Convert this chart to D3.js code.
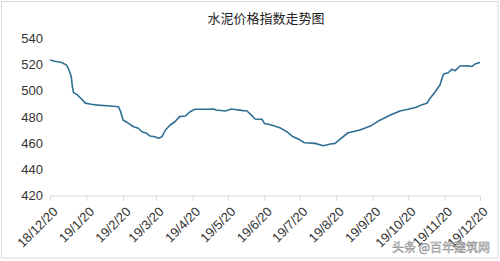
<!DOCTYPE html>
<html>
<head>
<meta charset="utf-8">
<script src="https://cdn.jsdelivr.net/npm/d3@7"></script>
<style>
  body { margin: 0; background: #fff; }
</style>
</head>
<body>
<div id="container"></div>
<script>
let w = 500;
let h = 261;

// cement price index
let dates = ["2018-12-20","2018-12-24","2018-12-30","2019-01-03","2019-01-05","2019-01-07","2019-01-08","2019-01-09",
  "2019-01-12","2019-01-16","2019-01-19","2019-01-24","2019-01-30","2019-02-09","2019-02-16","2019-02-18",
  "2019-02-20","2019-02-24","2019-03-01","2019-03-05","2019-03-08","2019-03-12","2019-03-15","2019-03-19",
  "2019-03-22","2019-03-25","2019-03-28","2019-04-01","2019-04-05","2019-04-09","2019-04-14","2019-04-18",
  "2019-04-22","2019-05-02","2019-05-08","2019-05-10","2019-05-18","2019-05-23","2019-06-02","2019-06-05",
  "2019-06-09","2019-06-12","2019-06-18","2019-06-20","2019-06-26","2019-07-03","2019-07-09","2019-07-14",
  "2019-07-20","2019-07-24","2019-08-02","2019-08-09","2019-08-15","2019-08-19","2019-08-23","2019-08-30",
  "2019-09-03","2019-09-09","2019-09-18","2019-09-26","2019-10-05","2019-10-13","2019-10-20","2019-10-27",
  "2019-10-31","2019-11-05","2019-11-07","2019-11-12","2019-11-16","2019-11-19","2019-11-23","2019-11-26",
  "2019-11-29","2019-12-03","2019-12-10","2019-12-13","2019-12-16","2019-12-19","2019-12-20"];
let values = [523.5,522.5,521.5,519.5,516,511,503,498.5,
  497,493.5,490.5,489.6,489,488.3,487.8,484,
  477.6,475.5,472.5,471.3,468.7,467.5,465.4,464.9,
  463.7,464.9,470,473.8,476.3,480.2,480.7,484,
  485.8,485.8,486,485.3,484.5,486,484.8,484.7,
  481.4,478.4,478.1,475,473.8,471.8,468.7,465,
  462.5,460.3,459.8,458,459.3,459.8,462.9,467.9,
  468.7,470,473,477.5,481.4,484.5,485.8,487.3,
  489,490.4,493.4,499.2,504.4,512.7,513.7,516.3,
  515.3,518.9,519.1,518.4,520.4,521.4,521.5];
let yTicks = [420, 440, 460, 480, 500, 520, 540];
let xTickLabels = ["18/12/20","19/1/20","19/2/20","19/3/20","19/4/20","19/5/20","19/6/20",
  "19/7/20","19/8/20","19/9/20","19/10/20","19/11/20","19/12/20"];
let xTickDates = ["2018-12-20","2019-01-20","2019-02-20","2019-03-20","2019-04-20","2019-05-20","2019-06-20",
  "2019-07-20","2019-08-20","2019-09-20","2019-10-20","2019-11-20","2019-12-20"];
let title = "水泥价格指数走势图";
let watermark = "头条 @百年建筑网";

let parse = d3.timeParse("%Y-%m-%d");
let data = dates.map(function(d, i){ return {date: parse(d), value: values[i]}; });

let viz = d3.select("#container")
  .append("svg")
    .attr("width", w)
    .attr("height", h)
    .style("display", "block")
    .style("font-family", "'Liberation Sans', Arial, sans-serif")
;

// outer chart border
viz.append("rect")
  .attr("x", 1.5).attr("y", 1.5)
  .attr("width", 496.5).attr("height", 256.5)
  .attr("fill", "#fff")
  .attr("stroke", "#d9d9d9")
;

let plotLeft = 50;
let plotRight = 480;
let plotTop = 38.3;
let plotBottom = 195.5;

let xScale = d3.scaleTime().domain([parse(xTickDates[0]), parse(xTickDates[xTickDates.length - 1])]).range([plotLeft, plotRight]);
let yScale = d3.scaleLinear().domain([420, 540]).range([plotBottom, plotTop]);

viz.append("text")
  .text(title)
  .attr("x", 266)
  .attr("y", 23)
  .attr("text-anchor", "middle")
  .attr("font-family", "'Noto Sans CJK SC', sans-serif")
  .attr("font-size", 13)
  .attr("fill", "#222")
;

// y axis: labels only
let yAxis = d3.axisLeft(yScale).tickValues(yTicks).tickSize(0).tickPadding(0);
let yg = viz.append("g").attr("transform", "translate(43,0)").call(yAxis);
yg.select(".domain").remove();
yg.selectAll("text").attr("font-size", 13).attr("fill", "#333").attr("font-family", "'Liberation Sans', Arial, sans-serif");

// x axis
let xAxis = d3.axisBottom(xScale)
  .tickValues(xTickDates.map(parse))
  .tickSize(5)
  .tickFormat(function(d, i){ return xTickLabels[i]; });
let xg = viz.append("g").attr("transform", "translate(0," + plotBottom + ")").call(xAxis);
xg.select(".domain").attr("stroke", "#d9d9d9");
xg.selectAll(".tick line").attr("stroke", "#d9d9d9");
xg.selectAll("text")
  .attr("font-size", 13)
  .attr("fill", "#333")
  .attr("font-family", "'Liberation Sans', Arial, sans-serif")
  .attr("text-anchor", "end")
  .attr("y", 0)
  .attr("dy", 0)
  .attr("transform", "translate(8,17) rotate(-45)")
;

let line = d3.line()
  .x(function(d){ return xScale(d.date); })
  .y(function(d){ return yScale(d.value); });

viz.append("path")
  .datum(data)
  .attr("d", line)
  .attr("fill", "none")
  .attr("stroke", "#2f6f94")
  .attr("stroke-width", 1.6)
  .attr("stroke-linejoin", "round")
;

viz.append("text")
  .text(watermark)
  .attr("x", 490)
  .attr("y", 252)
  .attr("text-anchor", "end")
  .attr("font-family", "'Noto Sans CJK SC', sans-serif")
  .attr("font-size", 12)
  .attr("fill", "#fff")
  .attr("stroke", "#888")
  .attr("stroke-width", 0.5)
;
</script>
</body>
</html>
